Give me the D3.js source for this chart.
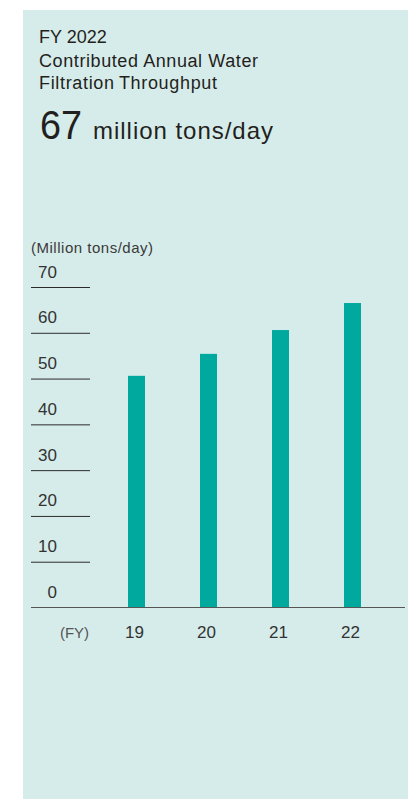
<!DOCTYPE html>
<html>
<head>
<meta charset="utf-8">
<script src="https://d3js.org/d3.v7.min.js"></script>
<style>
  html, body { margin: 0; padding: 0; background: #ffffff; }
  svg { display: block; font-family: "Liberation Sans", Arial, Helvetica, sans-serif; }
</style>
</head>
<body>
<svg id="chart" width="408" height="799"></svg>
<script>
// ---- data ----
const years = ["19", "20", "21", "22"];
const throughput = [50.6, 55.4, 60.6, 66.5];
const yTicks = [0, 10, 20, 30, 40, 50, 60, 70];
const headerLines = ["FY 2022", "Contributed Annual Water", "Filtration\u2009Throughput"];
const headlineValue = "67";
const headlineUnit = "million tons/day";
const unitLabel = "(Million tons/day)";
const xAxisLabel = "(FY)";

const svg = d3.select("#chart");

// panel background
svg.append("rect")
  .attr("x", 23).attr("y", 10).attr("width", 385).attr("height", 789)
  .attr("fill", "#d6ecea");

// header
const headerY = [42.5, 66.5, 89];
const headerW = [null, 219, 178];
headerLines.forEach((t, i) => {
  const el = svg.append("text")
    .attr("x", 39).attr("y", headerY[i])
    .attr("font-size", 18)
    .attr("fill", "#231f20")
    .text(t);
  if (headerW[i]) el.attr("textLength", headerW[i]).attr("lengthAdjust", "spacing");
});
svg.append("text")
  .attr("x", 40).attr("y", 138.5)
  .attr("font-size", 41)
  .attr("fill", "#231f20")
  .attr("textLength", 42).attr("lengthAdjust", "spacingAndGlyphs")
  .text(headlineValue);
svg.append("text")
  .attr("x", 93).attr("y", 138.5)
  .attr("font-size", 24)
  .attr("fill", "#231f20")
  .attr("textLength", 180).attr("lengthAdjust", "spacing")
  .text(headlineUnit);

// scales
const y = d3.scaleLinear().domain([0, 70]).range([607.5, 287]);
const x = d3.scaleBand().domain(years).range([100.5, 388.5])
  .paddingInner(1 - 17 / 72).paddingOuter((72 - 17) / 2 / 72);

// unit label
svg.append("text")
  .attr("x", 31).attr("y", 253)
  .attr("font-size", 15)
  .attr("fill", "#3a3a3a")
  .attr("textLength", 122).attr("lengthAdjust", "spacing")
  .text(unitLabel);

// y axis with short gridlines
const yAxis = d3.axisLeft(y).tickValues(yTicks).tickSize(59).tickFormat(d3.format("d"));
const yg = svg.append("g").attr("transform", "translate(90,0)").call(yAxis);
yg.select(".domain").remove();
yg.selectAll(".tick line").attr("stroke", "#2b2b2b").attr("stroke-width", 1)
  .filter(d => d === 0).remove();
yg.selectAll(".tick text")
  .attr("x", -33).attr("dy", -10)
  .attr("text-anchor", "end")
  .attr("font-size", 17)
  .attr("font-family", "\"Liberation Sans\", Arial, sans-serif")
  .attr("fill", "#333333");

// bars
svg.append("g").selectAll("rect")
  .data(years.map((yr, i) => ({ yr, v: throughput[i] })))
  .join("rect")
  .attr("x", d => x(d.yr))
  .attr("width", x.bandwidth())
  .attr("y", d => y(d.v))
  .attr("height", d => y(0) - y(d.v))
  .attr("fill", "#00a99d");

// baseline
svg.append("line")
  .attr("x1", 31).attr("x2", 405)
  .attr("y1", y(0)).attr("y2", y(0))
  .attr("stroke", "#555555").attr("stroke-width", 1.2);

// x axis labels
const xAxis = d3.axisBottom(x).tickSize(0).tickPadding(0);
const xg = svg.append("g").attr("transform", "translate(-2," + (y(0)) + ")").call(xAxis);
xg.select(".domain").remove();
xg.selectAll(".tick text")
  .attr("y", 0).attr("dy", 30.5)
  .attr("font-size", 17)
  .attr("font-family", "\"Liberation Sans\", Arial, sans-serif")
  .attr("fill", "#333333");

svg.append("text")
  .attr("x", 74.5).attr("y", 638)
  .attr("text-anchor", "middle")
  .attr("font-size", 15)
  .attr("fill", "#555555")
  .text(xAxisLabel);
</script>
</body>
</html>
